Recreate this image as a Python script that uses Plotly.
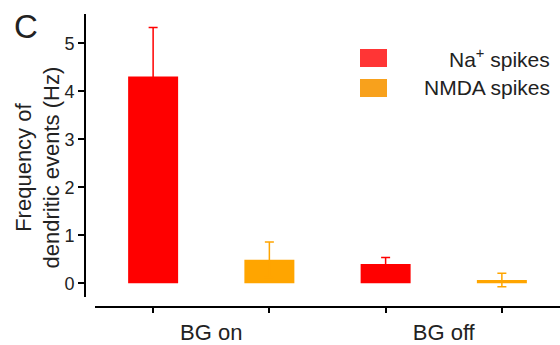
import plotly.graph_objects as go

# ---- data ----
groups = ["BG on", "BG off"]
series_names = ["Na<sup>+</sup> spikes", "NMDA spikes"]
na_values = [4.31, 0.40]
na_errors = [1.02, 0.14]
nmda_values = [0.49, 0.07]
nmda_errors = [0.37, 0.14]
y_ticks = [0, 1, 2, 3, 4, 5]

bar_colors = ["#FF0000", "#FFA500"]
legend_colors = ["#FF3535", "#F8A11C"]
FONT = "Arial, Liberation Sans, sans-serif"
TXT = "#222222"

W, H = 560, 345
def px(x):
    return x / W
def py(y):
    return 1 - y / H

xpos = list(range(len(groups)))

fig = go.Figure()
for name, vals, errs, col in [
    (series_names[0], na_values, na_errors, bar_colors[0]),
    (series_names[1], nmda_values, nmda_errors, bar_colors[1]),
]:
    fig.add_trace(go.Bar(
        x=xpos, y=vals, name=name, marker=dict(color=col, line=dict(width=0)),
        error_y=dict(type="data", array=errs, visible=True, color=col,
                     thickness=1.5, width=4.5),
        showlegend=False,
    ))

# bar tick positions (one per bar)
minor_vals = []
for g in xpos:
    minor_vals += [g - 0.25, g + 0.25]

fig.update_layout(
    width=W, height=H,
    margin=dict(l=0, r=0, t=0, b=0),
    paper_bgcolor="white", plot_bgcolor="white",
    barmode="group", bargap=0.0, bargroupgap=0.57,
    font=dict(family=FONT, color=TXT),
    xaxis=dict(
        domain=[px(95), 1.0], anchor="free", position=py(306.7),
        range=[-0.5, 1.5], showgrid=False, zeroline=False,
        showline=True, linecolor="black", linewidth=2,
        tickmode="array", tickvals=xpos, ticktext=groups, ticks="",
        tickfont=dict(size=22, color=TXT, family=FONT),
        ticklabelstandoff=6,
        minor=dict(tickmode="array", tickvals=minor_vals, ticks="outside",
                   ticklen=5, tickwidth=2, tickcolor="black", showgrid=False),
    ),
    yaxis=dict(
        domain=[py(297), py(14)], anchor="free", position=px(85),
        range=[-0.285, 5.61], showgrid=False, zeroline=False,
        showline=True, linecolor="black", linewidth=2,
        tickmode="array", tickvals=y_ticks, ticks="outside",
        ticklen=6, tickwidth=2, tickcolor="black",
        tickfont=dict(size=18, color=TXT, family=FONT),
    ),
)

# panel label
fig.add_annotation(text="C", xref="paper", yref="paper", x=px(25.5), y=py(27),
                   xanchor="center", yanchor="middle", showarrow=False,
                   font=dict(size=33, color=TXT, family=FONT))

# y-axis title
fig.add_annotation(text="Frequency of<br>dendritic events (Hz)", xref="paper", yref="paper",
                   x=px(38), y=py(167.5), xanchor="center", yanchor="middle",
                   textangle=-90, align="center", showarrow=False,
                   font=dict(size=22, color=TXT, family=FONT))

# legend
legend_rows = [(49, 67), (79, 97)]
for (top, bot), col, name in zip(legend_rows, legend_colors, series_names):
    fig.add_shape(type="rect", xref="paper", yref="paper",
                  x0=px(360), x1=px(387), y0=py(bot), y1=py(top),
                  fillcolor=col, line=dict(width=0))
    fig.add_annotation(text=name, xref="paper", yref="paper",
                       x=px(552), y=py((top + bot) / 2), xanchor="right", yanchor="middle",
                       showarrow=False, font=dict(size=21, color=TXT, family=FONT))

fig.write_html("out.html")
